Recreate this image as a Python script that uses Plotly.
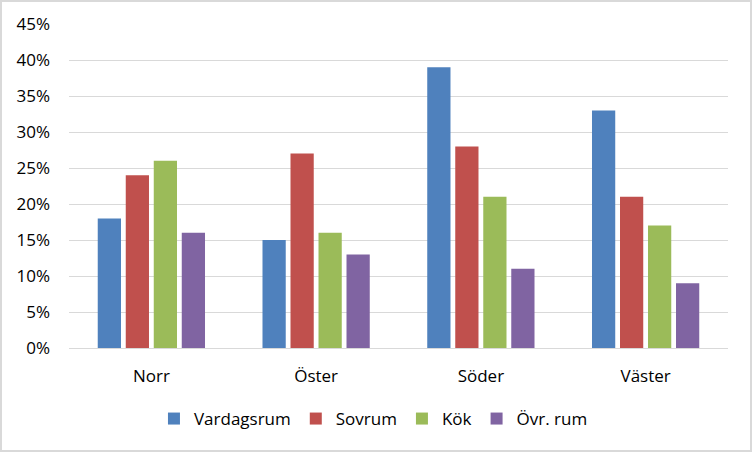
import plotly.graph_objects as go

categories = ["Norr", "Öster", "Söder", "Väster"]
series_names = ["Vardagsrum", "Sovrum", "Kök", "Övr. rum"]
vardagsrum = [18, 15, 39, 33]
sovrum = [24, 27, 28, 21]
kok = [26, 16, 21, 17]
ovr_rum = [16, 13, 11, 9]
colors = ["#4F81BD", "#C0504D", "#9BBB59", "#8064A2"]
y_ticks = [0, 5, 10, 15, 20, 25, 30, 35, 40, 45]
y_ticktext = [f"{v}%" for v in y_ticks]

values = [vardagsrum, sovrum, kok, ovr_rum]

fig = go.Figure()
for name, vals, col in zip(series_names, values, colors):
    fig.add_trace(go.Bar(x=categories, y=vals, name=name, marker=dict(color=col, line=dict(width=0))))

W, H = 752, 452
L, R, T, B = 69, 24, 24, 104
pw, ph = W - L - R, H - T - B

fig.update_layout(
    width=W, height=H,
    margin=dict(l=L, r=R, t=T, b=B),
    paper_bgcolor="white", plot_bgcolor="white",
    barmode="group", bargap=0.32, bargroupgap=0.17,
    font=dict(family="Open Sans, Liberation Sans, sans-serif", size=17, color="#000000"),
    legend=dict(orientation="h", x=0.462, xanchor="center", y=-(419 - 348) / ph, yanchor="middle",
                font=dict(size=17), itemwidth=30, traceorder="normal"),
    showlegend=True,
    xaxis=dict(showline=True, linecolor="#d9d9d9", linewidth=1, ticks="", ticklabelstandoff=13,
               tickfont=dict(size=17)),
    yaxis=dict(range=[0, 45], tickvals=y_ticks, ticktext=y_ticktext, showgrid=True, gridcolor="#d9d9d9",
               gridwidth=1, zeroline=False, showline=False, ticks="", ticklabelstandoff=18,
               tickfont=dict(size=17)),
    shapes=[dict(type="rect", xref="paper", yref="paper",
                 x0=-(L - 1) / pw, x1=1 + (R - 1) / pw, y0=-(B - 1) / ph, y1=1 + (T - 1) / ph,
                 line=dict(color="#d9d9d9", width=2), fillcolor="rgba(0,0,0,0)", layer="above")],
)

fig.write_html("out.html", config={"displayModeBar": False},
               post_script="document.body.style.margin='0';document.body.style.padding='0';")
